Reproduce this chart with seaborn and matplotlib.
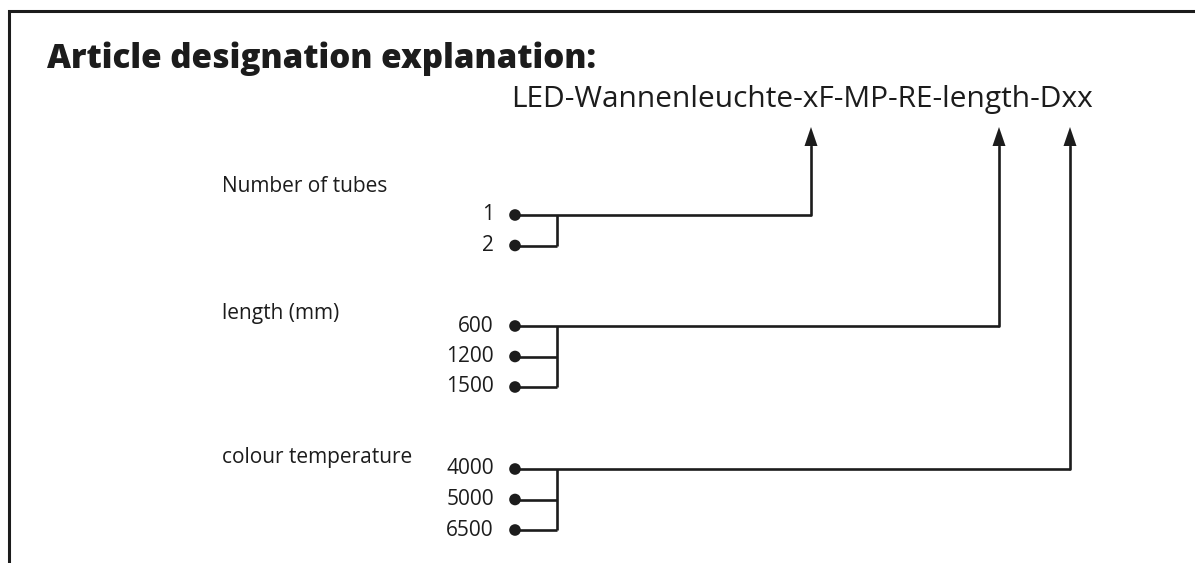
import pandas as pd
import matplotlib
matplotlib.use("Agg")
import matplotlib.pyplot as plt
import seaborn as sns

# Diagram content
title_text = "Article designation explanation:"
code_text = "LED-Wannenleuchte-xF-MP-RE-length-Dxx"
group_names = ["Number of tubes", "length (mm)", "colour temperature"]
tube_options = ["1", "2"]
length_options = ["600", "1200", "1500"]
colour_options = ["4000", "5000", "6500"]

# Layout (pixel coordinates, y grows downward)
W, H = 1195, 563
dot_x = 515
junction_x = 557
label_right = 494
group_label_x = 222
group_label_y = [186, 313, 458]
first_row_y = [215, 326, 469]
row_step = 30.5
arrow_x = [811, 999, 1070]
arrow_tip_y = 127
arrow_base_y = 146
ink = "#1c1c1c"
lw = 1.9

rows = []
for g, (name, opts) in enumerate(zip(group_names, [tube_options, length_options, colour_options])):
    for i, opt in enumerate(opts):
        rows.append({"group": name, "option": opt, "x": dot_x, "y": first_row_y[g] + i * row_step})
df = pd.DataFrame(rows)

sns.set_theme(style="white")
plt.rcParams["font.family"] = ["Open Sans", "DejaVu Sans"]

fig = plt.figure(figsize=(W / 100, H / 100), dpi=100, facecolor="white")
ax = fig.add_axes([0, 0, 1, 1])
ax.set_xlim(0, W)
ax.set_ylim(H, 0)
ax.axis("off")

# outer frame (top and left edges)
ax.plot([9, 9, W], [H, 11, 11], color=ink, lw=2.2, solid_joinstyle="miter")

ax.text(47, 59, title_text, fontsize=23.9, fontweight="heavy", color=ink, va="center", ha="left")
ax.text(511, 99, code_text, fontsize=21.5, color=ink, va="center", ha="left")

for g, name in enumerate(group_names):
    ax.text(group_label_x, group_label_y[g], name, fontsize=15, color=ink, va="center", ha="left")
    sub = df[df["group"] == name]
    ys = sub["y"].tolist()
    # horizontal connectors
    for k, y in enumerate(ys):
        end = arrow_x[g] if k == 0 else junction_x
        ax.plot([dot_x, end], [y, y], color=ink, lw=lw, solid_capstyle="butt")
    ax.plot([junction_x, junction_x], [ys[0], ys[-1]], color=ink, lw=lw, solid_capstyle="butt")
    # vertical riser with arrowhead
    ax.plot([arrow_x[g], arrow_x[g]], [ys[0], arrow_base_y], color=ink, lw=lw, solid_joinstyle="miter")
    ax.fill([arrow_x[g] - 6.5, arrow_x[g] + 6.5, arrow_x[g]],
            [arrow_base_y, arrow_base_y, arrow_tip_y], color=ink, lw=0)
    for _, r in sub.iterrows():
        ax.text(label_right, r["y"], r["option"], fontsize=15, color=ink, va="center", ha="right")

sns.scatterplot(data=df, x="x", y="y", color=ink, s=70, edgecolor="none", ax=ax, zorder=5, legend=False)
ax.set_xlim(0, W)
ax.set_ylim(H, 0)
ax.axis("off")

fig.savefig("out.png", dpi=100, facecolor="white")
